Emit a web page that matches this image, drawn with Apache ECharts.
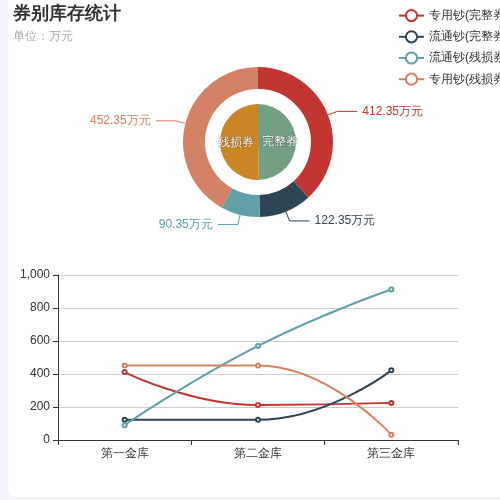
<!DOCTYPE html>
<html><head><meta charset="utf-8">
<script src="https://cdn.jsdelivr.net/npm/echarts@6/dist/echarts.min.js"></script>
<style>
html,body{margin:0;padding:0;background:#f3f4f9;width:500px;height:500px;overflow:hidden}
#c{position:absolute;left:8px;top:0;width:492px;height:497px;background:#fff;border-radius:0 0 0 6px;overflow:hidden}
</style></head><body><div id="c"></div>
<script>
var categories = ['第一金库','第二金库','第三金库'];
var seriesNames = ['专用钞(完整券)','流通钞(完整券)','流通钞(残损券)','专用钞(残损券)'];
var s1 = [412, 212, 225];
var s2 = [122, 122, 422];
var s3 = [90, 570, 912];
var s4 = [452, 452, 32];
var ringValues = [412.35, 122.35, 90.35, 452.35];
var innerNames = ['完整券','残损券'];
var innerValues = [534.7, 542.7];
var colors = ['#c23531','#2f4554','#61a0a8','#d48265'];
var chart = echarts.init(document.getElementById('c'));
var lines = [s1,s2,s3,s4].map(function(d,i){
  return {name:seriesNames[i],type:'line',smooth:true,data:d,symbol:'emptyCircle',symbolSize:4,
    lineStyle:{width:2,color:colors[i]},itemStyle:{color:colors[i]}};
});
chart.setOption({
  animation:false,
  color:colors,
  title:{text:'券别库存统计',subtext:'单位：万元',left:0,top:0,itemGap:8,
    textStyle:{fontSize:18,fontWeight:'bold',color:'#333'},subtextStyle:{fontSize:12,color:'#aaa'}},
  legend:{data:seriesNames,orient:'vertical',left:385,top:4,itemGap:8,itemWidth:25,itemHeight:14,
    textStyle:{fontSize:12,color:'#333'}},
  grid:{left:50,right:42,top:275,bottom:57},
  xAxis:{type:'category',data:categories,axisLine:{lineStyle:{color:'#333'}},axisTick:{show:true},
    axisLabel:{color:'#333',fontSize:12}},
  yAxis:{type:'value',min:0,max:1000,interval:200,axisLine:{show:true,lineStyle:{color:'#333'}},axisTick:{show:true},
    axisLabel:{color:'#333',fontSize:12},splitLine:{lineStyle:{color:'#ccc'}}},
  series:lines.concat([
    {type:'pie',center:[250,142],radius:[53,75],startAngle:90,clockwise:true,
      data:ringValues.map(function(v,i){return {name:seriesNames[i],value:v,itemStyle:{color:colors[i]}};}),
      label:{formatter:'{c}万元',fontSize:12,color:'inherit'},
      labelLine:{length:10,length2:20}},
    {type:'pie',center:[250,142],radius:[0,38],startAngle:90,
      data:innerValues.map(function(v,i){return {name:innerNames[i],value:v,itemStyle:{color:['#749f83','#ca8622'][i]}};}),
      label:{position:'inside',formatter:'{b}',color:'#fff',fontSize:12,textBorderColor:'rgba(0,0,0,0.3)',textBorderWidth:1},
      labelLine:{show:false}}
  ])
});
</script></body></html>
